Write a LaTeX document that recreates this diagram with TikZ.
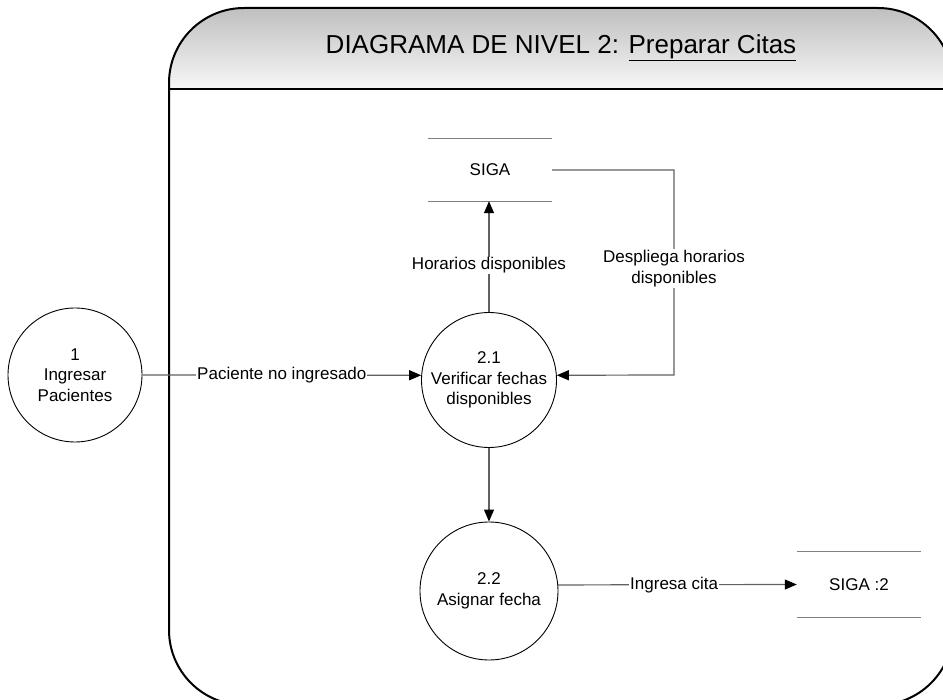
\documentclass[tikz,border=0pt]{standalone}
\usepackage{fontspec}
\setmainfont{Liberation Sans}
\usetikzlibrary{arrows.meta}
\newcommand\dfdlabel{\fontsize{17}{20.5}\selectfont}
\newcommand\dfdtitle{\fontsize{26}{30}\selectfont}
\begin{document}
\begin{tikzpicture}[x=1pt,y=-1pt,
  proc/.style={circle,draw=black,line width=0.9pt,minimum size=135pt,
    inner sep=0pt,align=center,font=\dfdlabel},
  store/.style={minimum width=124pt,inner sep=0pt,font=\dfdlabel},
  storeline/.style={draw=black!50,line width=1.3pt},
  flow/.style={draw=black!62,line width=1.2pt,
    -{Triangle[length=12pt,width=10pt,fill=black,color=black]}},
  flowlabel/.style={fill=white,inner sep=1pt,font=\dfdlabel,align=center,text=black},
  frame/.style={draw=black,line width=2pt}]
\useasboundingbox (0,0) rectangle (943,700);

% header band with its shading
\begin{scope}
  \clip[rounded corners=75pt] (169,8) rectangle (953,705);
  \path[top color=black!25,bottom color=black!3] (169,8) rectangle (953,89);
\end{scope}
\draw[frame,rounded corners=75pt] (169,8) rectangle (953,705);
\draw[black,line width=1.6pt] (169,89) -- (953,89);
\node[font=\dfdtitle] (title) at (561,47.5)
  {DIAGRAMA DE NIVEL 2: \underline{Preparar Citas}};

% processes
\node[proc,minimum size=134pt] (c1) at (75,375) {1\\Ingresar\\Pacientes};
\node[proc] (c21) at (489,380) {2.1\\Verificar fechas\\disponibles};
\node[proc,minimum size=138pt] (c22) at (489,591) {2.2\\Asignar fecha};

% data stores
\node[store,minimum height=62pt] (siga) at (490,170) {SIGA};
\draw[storeline] (siga.north west) -- (siga.north east);
\draw[storeline] (siga.south west) -- (siga.south east);
\node[store,minimum height=65pt] (siga2) at (859,584.5) {SIGA :2};
\draw[storeline] (siga2.north west) -- (siga2.north east);
\draw[storeline] (siga2.south west) -- (siga2.south east);

% flows
\draw[flow] (c1.east) -- node[flowlabel,pos=0.5] {Paciente no ingresado} (c21.176);
\draw[flow] (c21.north) -- node[flowlabel,pos=0.42] {Horarios disponibles}
  (c21.north |- siga.south);
\coordinate (turn) at (674,375);
\draw[flow] (siga.east) -| (turn) -- (c21.4);
\node[flowlabel] (despliega) at (674,268.5) {Despliega horarios\\disponibles};
\draw[flow] (c21.south) -- (c22.north);
\draw[flow] (c22.5) -- node[flowlabel,pos=0.486] {Ingresa cita} (siga2.west);
\end{tikzpicture}
\end{document}
